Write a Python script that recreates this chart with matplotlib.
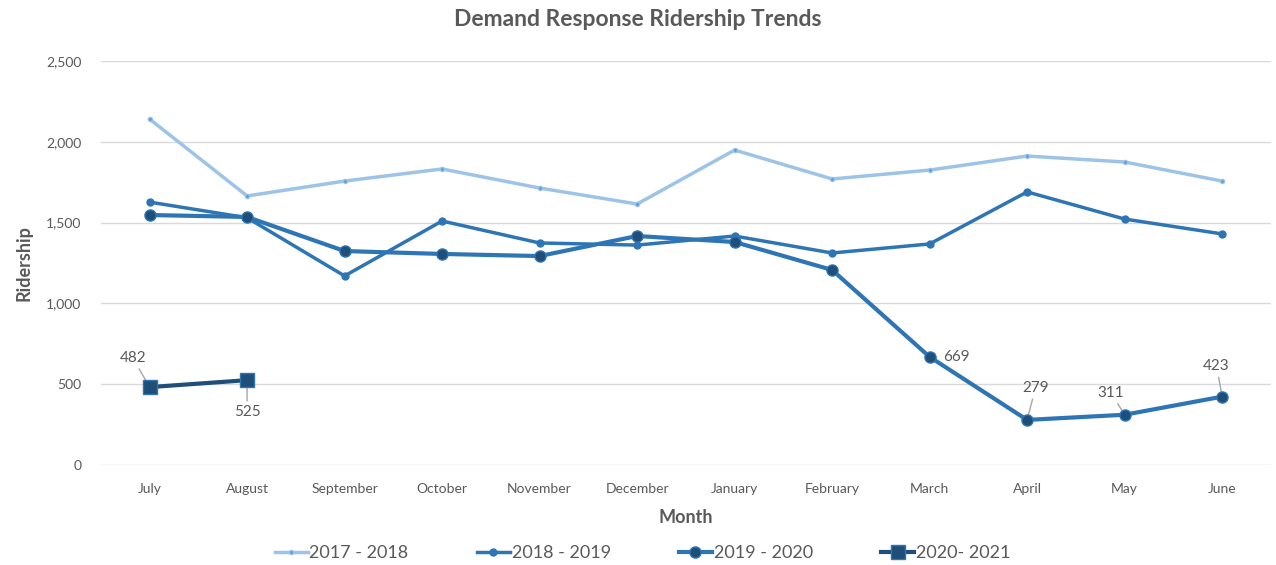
import matplotlib.pyplot as plt
import numpy as np

months = ['July', 'August', 'September', 'October', 'November', 'December',
          'January', 'February', 'March', 'April', 'May', 'June']
fy1718 = [2141, 1665, 1757, 1832, 1714, 1615, 1949, 1770, 1825, 1912, 1875, 1757]
fy1819 = [1627, 1530, 1170, 1510, 1374, 1361, 1417, 1312, 1368, 1690, 1522, 1430]
fy1920 = [1547, 1535, 1324, 1306, 1293, 1417, 1380, 1207, 669, 279, 311, 423]
fy2021 = [482, 525]
series_names = ['2017 - 2018', '2018 - 2019', '2019 - 2020', '2020- 2021']

plt.rcParams['font.family'] = ['Lato', 'DejaVu Sans']
grey = '#595959'

fig = plt.figure(figsize=(12.76, 5.65), dpi=100)
ax = fig.add_axes([0.079, 0.177, 0.917, 0.715])
x = np.arange(len(months))

ax.plot(x, fy1718, '-', color='#9DC3E6', lw=2.5, marker='o', ms=3,
        mfc='#5B9BD5', mec='#9DC3E6', label=series_names[0])
ax.plot(x, fy1819, '-', color='#2E75B6', lw=2.5, marker='o', ms=5,
        mfc='#2E75B6', mec='#2E75B6', label=series_names[1])
ax.plot(x, fy1920, '-', color='#2E75B6', lw=3, marker='o', ms=8,
        mfc='#1F4E79', mec='#2E75B6', mew=1, label=series_names[2])
ax.plot(x[:len(fy2021)], fy2021, '-', color='#1F4E79', lw=3, marker='s', ms=10,
        mfc='#1F4E79', mec='#2E75B6', mew=1, label=series_names[3])

# data labels with leader lines
lab = dict(fontsize=11, color=grey, ha='center', va='center', zorder=1,
           arrowprops=dict(arrowstyle='-', color='#A6A6A6', lw=1, shrinkA=1, shrinkB=0))
ax.annotate(str(fy2021[0]), (x[0], fy2021[0]), xytext=(-12, 21), textcoords='offset points', **lab)
ax.annotate(str(fy2021[1]), (x[1], fy2021[1]), xytext=(0, -23), textcoords='offset points', **lab)
ax.annotate(str(fy1920[8]), (x[8], fy1920[8]), xytext=(19, 0), textcoords='offset points',
            fontsize=11, color=grey, ha='center', va='center')
ax.annotate(str(fy1920[9]), (x[9], fy1920[9]), xytext=(6, 23), textcoords='offset points', **lab)
ax.annotate(str(fy1920[10]), (x[10], fy1920[10]), xytext=(-10, 16), textcoords='offset points', **lab)
ax.annotate(str(fy1920[11]), (x[11], fy1920[11]), xytext=(-4, 22), textcoords='offset points', **lab)

ax.set_xlim(-0.5, len(months) - 0.5)
ax.set_ylim(0, 2500)
ax.set_yticks(np.arange(0, 2501, 500))
ax.set_yticklabels([f'{v:,}' for v in range(0, 2501, 500)])
ax.set_xticks(x)
ax.set_xticklabels(months)
ax.tick_params(axis='both', length=0, labelsize=10, colors=grey)
ax.tick_params(axis='x', pad=13)
ax.tick_params(axis='y', pad=14)
ax.grid(axis='y', color='#D9D9D9', lw=1)
ax.set_axisbelow(True)
for s in ax.spines.values():
    s.set_visible(False)

ax.set_xlabel('Month', fontsize=13, fontweight='bold', color=grey, labelpad=10)
ax.set_ylabel('Ridership', fontsize=13, fontweight='bold', color=grey, labelpad=10)
fig.text(0.5, 0.966, 'Demand Response Ridership Trends', ha='center', va='center',
         fontsize=16.5, fontweight='bold', color=grey)

ax.legend(loc='center', bbox_to_anchor=(0.463, -0.218), ncol=4, frameon=False,
          fontsize=13, handlelength=1.8, handletextpad=0.1, columnspacing=3.8,
          labelcolor=grey)

fig.savefig('out.png', dpi=100)
